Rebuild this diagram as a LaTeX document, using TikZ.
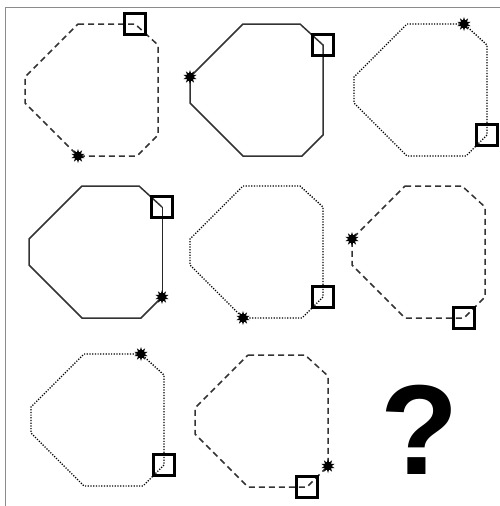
\documentclass[tikz,border=0pt]{standalone}
\usepackage{fontspec}
\setmainfont{Liberation Sans}
\usetikzlibrary{shapes.geometric}
\tikzset{
  solidline/.style={line width=1.5pt, line join=miter, color=black!80},
  dashline/.style={line width=1.5pt, dash pattern=on 6pt off 4pt, color=black!80},
  dotline/.style={line width=1.4pt, dash pattern=on 1.2pt off 1.5pt, color=black},
  burst/.style={star, star points=10, star point ratio=1.9, minimum size=14pt, inner sep=0pt, fill=black, draw=none},
  marker/.style={rectangle, draw=black, line width=3pt, minimum size=21pt, inner sep=0pt, fill=none},
  frameline/.style={line width=1pt, color=black!45}
}
% octagon with top-left corner at (#1,#2); offsets in px
\newcommand\drawocta[3]{%
  \draw[#3] (#1+53,#2) -- (#1+110,#2) -- (#1+133,#2+21) -- (#1+133,#2+111)
    -- (#1+112,#2+132) -- (#1+53,#2+132) -- (#1,#2+79) -- (#1,#2+53) -- cycle;}
\begin{document}
\begin{tikzpicture}[x=1pt,y=-1pt]
\useasboundingbox (0,0) rectangle (500,506);
\fill[white] (0,0) rectangle (500,506);
\draw[frameline] (5,506) -- (5,7) -- (500,7);

% cell 1
\drawocta{25}{24}{dashline}
\node[marker] (sq1) at (25+110,24) {};
\node[burst] (st1) at (25+53,24+132) {};
% cell 2
\drawocta{190}{24}{solidline}
\node[marker] (sq2) at (190+133,24+21) {};
\node[burst] (st2) at (190,24+53) {};
% cell 3
\drawocta{354}{24}{dotline}
\node[marker] (sq3) at (354+133,24+111) {};
\node[burst] (st3) at (354+110,24) {};
% cell 4
\draw[solidline] (29+133,186+21) -- (29+110,186) -- (29+53,186) -- (29,186+53) -- (29,186+79)
  -- (29+53,186+132) -- (29+112,186+132) -- (29+133,186+111);
\draw[line width=1pt, color=black!85] (29+133,186+21) -- (29+133,186+111);
\node[marker] (sq4) at (29+133,186+21) {};
\node[burst] (st4) at (29+133,186+111) {};
% cell 5
\drawocta{190}{186}{dotline}
\node[marker] (sq5) at (190+133,186+111) {};
\node[burst] (st5) at (190+53,186+132) {};
% cell 6
\drawocta{352}{186}{dashline}
\node[marker] (sq6) at (352+112,186+132) {};
\node[burst] (st6) at (352,186+53) {};
% cell 7
\drawocta{31}{354}{dotline}
\node[marker] (sq7) at (31+133,354+111) {};
\node[burst] (st7) at (31+110,354) {};
% cell 8
\drawocta{195}{355}{dashline}
\node[marker] (sq8) at (195+112,355+132) {};
\node[burst] (st8) at (195+133,355+111) {};

% question mark
\node[inner sep=0pt, font=\fontsize{128}{128}\selectfont\bfseries] (q) at (420,430) {?};
\end{tikzpicture}
\end{document}
